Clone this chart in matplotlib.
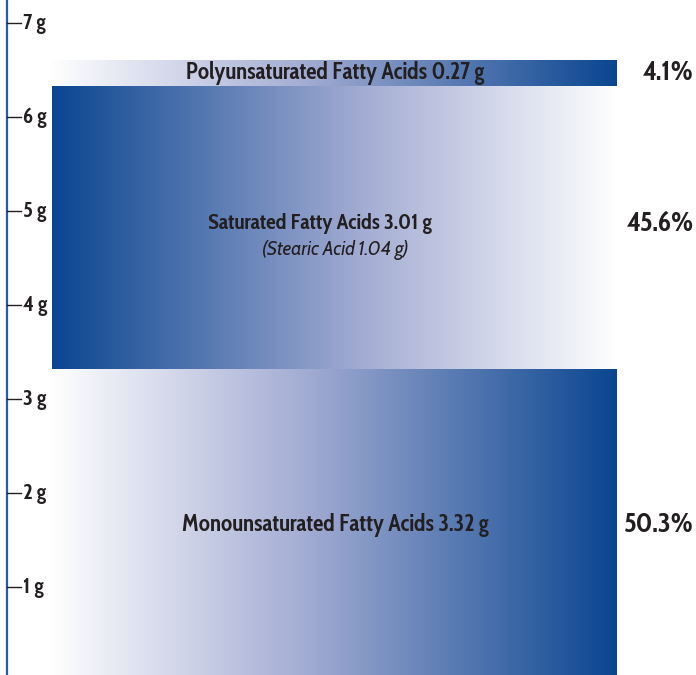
import numpy as np
import matplotlib.pyplot as plt
from matplotlib.colors import LinearSegmentedColormap

# grams per serving, bottom to top
names = ["Monounsaturated Fatty Acids", "Saturated Fatty Acids", "Polyunsaturated Fatty Acids"]
grams = [3.32, 3.01, 0.27]
grams_text = ["3.32", "3.01", "0.27"]
fade_dir = [1, -1, 1]          # 1: light -> dark left to right, -1: dark -> light
sub_note = [None, "(Stearic Acid 1.04 g)", None]
tick_vals = [1, 2, 3, 4, 5, 6, 7]
tick_text = ["1 g", "2 g", "3 g", "4 g", "5 g", "6 g", "7 g"]

FONT = ["Cabin Condensed", "DejaVu Sans"]
FONT_IT = ["Cabin", "DejaVu Sans"]
INK = "#231f20"
BLUE = "#0a4690"

cmap = LinearSegmentedColormap.from_list(
    "fade", [(0.0, "#ffffff"), (0.45, "#a3acd3"), (1.0, BLUE)])

fig = plt.figure(figsize=(6.96, 6.75), dpi=100)
ax = fig.add_axes([0, 0, 1, 1])
ax.set_xlim(0, 696)
ax.set_ylim(6 / 94, 681 / 94)   # 0 g sits just below the bottom edge
ax.axis("off")

# axis line and ticks
ax.plot([7, 7], [-1, 7.3], color="#2a5aa8", lw=1.6, clip_on=False)
for v, t in zip(tick_vals, tick_text):
    ax.plot([7, 21], [v, v], color=INK, lw=1.0)
    ax.text(23, v, t, ha="left", va="center", fontsize=15.5, fontweight="bold",
            color=INK, family=FONT)

grad = np.linspace(0, 1, 256).reshape(1, -1)
bottom = 0.0
total = sum(grams)
for name, g, gt, d, note in zip(names, grams, grams_text, fade_dir, sub_note):
    top = bottom + g
    x0 = 52 if d == -1 else 50
    img = grad if d == 1 else grad[:, ::-1]
    ax.imshow(img, cmap=cmap, aspect="auto", extent=[x0, 617, bottom, top],
              interpolation="bilinear", zorder=1)
    mid = bottom + g / 2
    label = f"{name} {gt} g"
    if note:
        ax.text(320, mid + 0.04, label, ha="center", va="center", fontsize=15.5,
                fontweight="bold", color=INK, family=FONT, zorder=3)
        ax.text(335, mid - 0.24, note, ha="center", va="center", fontsize=13.5,
                style="italic", color=INK, family=FONT_IT, zorder=3)
    else:
        ax.text(335, mid, label, ha="center", va="center", fontsize=16.5,
                fontweight="bold", color=INK, family=FONT, zorder=3)
    pct = 100 * g / total
    ax.text(694, mid if not note else mid + 0.04, f"{pct:.1f}%", ha="right",
            va="center", fontsize=20, fontweight="bold", color=INK, family=FONT)
    bottom = top

fig.savefig("out.png", dpi=100)
